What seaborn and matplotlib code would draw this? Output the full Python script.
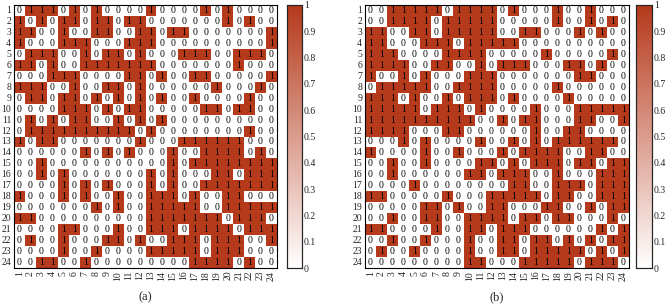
import numpy as np
import matplotlib
matplotlib.use("Agg")
import matplotlib.pyplot as plt
from matplotlib.colors import LinearSegmentedColormap
import seaborn as sns

sns.set_style("white")
plt.rcParams['font.family'] = ['Liberation Serif', 'DejaVu Serif']

# 24x24 binary matrices, one string per row (row 1 first)
rows_a = [
    "011101010000100001010000",
    "101011011011000000010100",
    "110010011001101100000001",
    "100011100011100000000001",
    "011100101101000111001110",
    "110100111111100000001000",
    "000111000011010011000001",
    "111001001101000000100010",
    "011011010101010010000100",
    "000011101011000001101100",
    "010101100101010000000000",
    "011111111110100000000100",
    "101100000001000111111000",
    "000000101010001001111010",
    "001000000000001011111111",
    "001010000000101000110111",
    "000010101000101001111111",
    "100010100100111010011000",
    "000000010100111110011111",
    "110000000000111111101110",
    "000011000100111011110111",
    "010010001101001110111001",
    "000010010000111110111000",
    "001100100000000011110100",
]
rows_b = [
    "001111101111010001001000",
    "001111011111000001001010",
    "110011011111001100010100",
    "110001110111110000000000",
    "111000011110000010000010",
    "111100110010111000110100",
    "100101000111000000011000",
    "011111001111000001000000",
    "111010010111010000100000",
    "111110111010000100011111",
    "111111111100101100011001",
    "111100011000000100110000",
    "000101000010010101111110",
    "100001001000101111001100",
    "001001000011010111011011",
    "001000000110111001000111",
    "000010000000011001110111",
    "110000010001111101100111",
    "000001101001100011001011",
    "001001100111101101100010",
    "110000100110111000000101",
    "001001000100110110101011",
    "010010000100110111110101",
    "000000000110001111101110",
]
labels = [str(i) for i in range(1, 25)]
cbar_ticks = [0, 0.1, 0.2, 0.3, 0.4, 0.5, 0.6, 0.7, 0.8, 0.9, 1]
cbar_labels = ["0", "0.1", "0.2", "0.3", "0.4", "0.5", "0.6", "0.7", "0.8", "0.9", "1"]

mat_a = np.array([[int(c) for c in r] for r in rows_a])
mat_b = np.array([[int(c) for c in r] for r in rows_b])

cmap = LinearSegmentedColormap.from_list("wr", ["#ffffff", "#b5391b"])

fig = plt.figure(figsize=(6.68, 3.06), dpi=100)
W, H = 668.0, 306.0
ax_a = fig.add_axes([14 / W, 1 - 268 / H, 263 / W, 263 / H])
cax_a = fig.add_axes([287 / W, 1 - 268 / H, 15 / W, 263 / H])
ax_b = fig.add_axes([365 / W, 1 - 268 / H, 264 / W, 263 / H])
cax_b = fig.add_axes([636 / W, 1 - 268 / H, 16 / W, 263 / H])

for ax, cax, mat, cap in [(ax_a, cax_a, mat_a, "(a)"), (ax_b, cax_b, mat_b, "(b)")]:
    sns.heatmap(mat, ax=ax, cbar_ax=cax, cmap=cmap, vmin=0, vmax=1,
                annot=True, fmt="d",
                annot_kws={"color": "black", "fontsize": 7},
                xticklabels=labels, yticklabels=labels)
    for s in ax.spines.values():
        s.set_visible(True)
        s.set_color("black")
        s.set_linewidth(0.8)
    ax.tick_params(direction="in", length=3, width=0.6, labelsize=7,
                   left=True, right=True, bottom=True, pad=2)
    ax.set_xticklabels(labels, rotation=90)
    ax.set_yticklabels(labels, rotation=0)
    ax.set_xlabel(cap, fontsize=9, labelpad=8)

    cax.set_yticks(cbar_ticks)
    cax.set_yticklabels(cbar_labels)
    cax.tick_params(direction="in", length=3, width=0.6, labelsize=7,
                    left=True, right=True, pad=1.5)
    for s in cax.spines.values():
        s.set_visible(True)
        s.set_linewidth(0.8)

fig.savefig("out.png", dpi=100)
